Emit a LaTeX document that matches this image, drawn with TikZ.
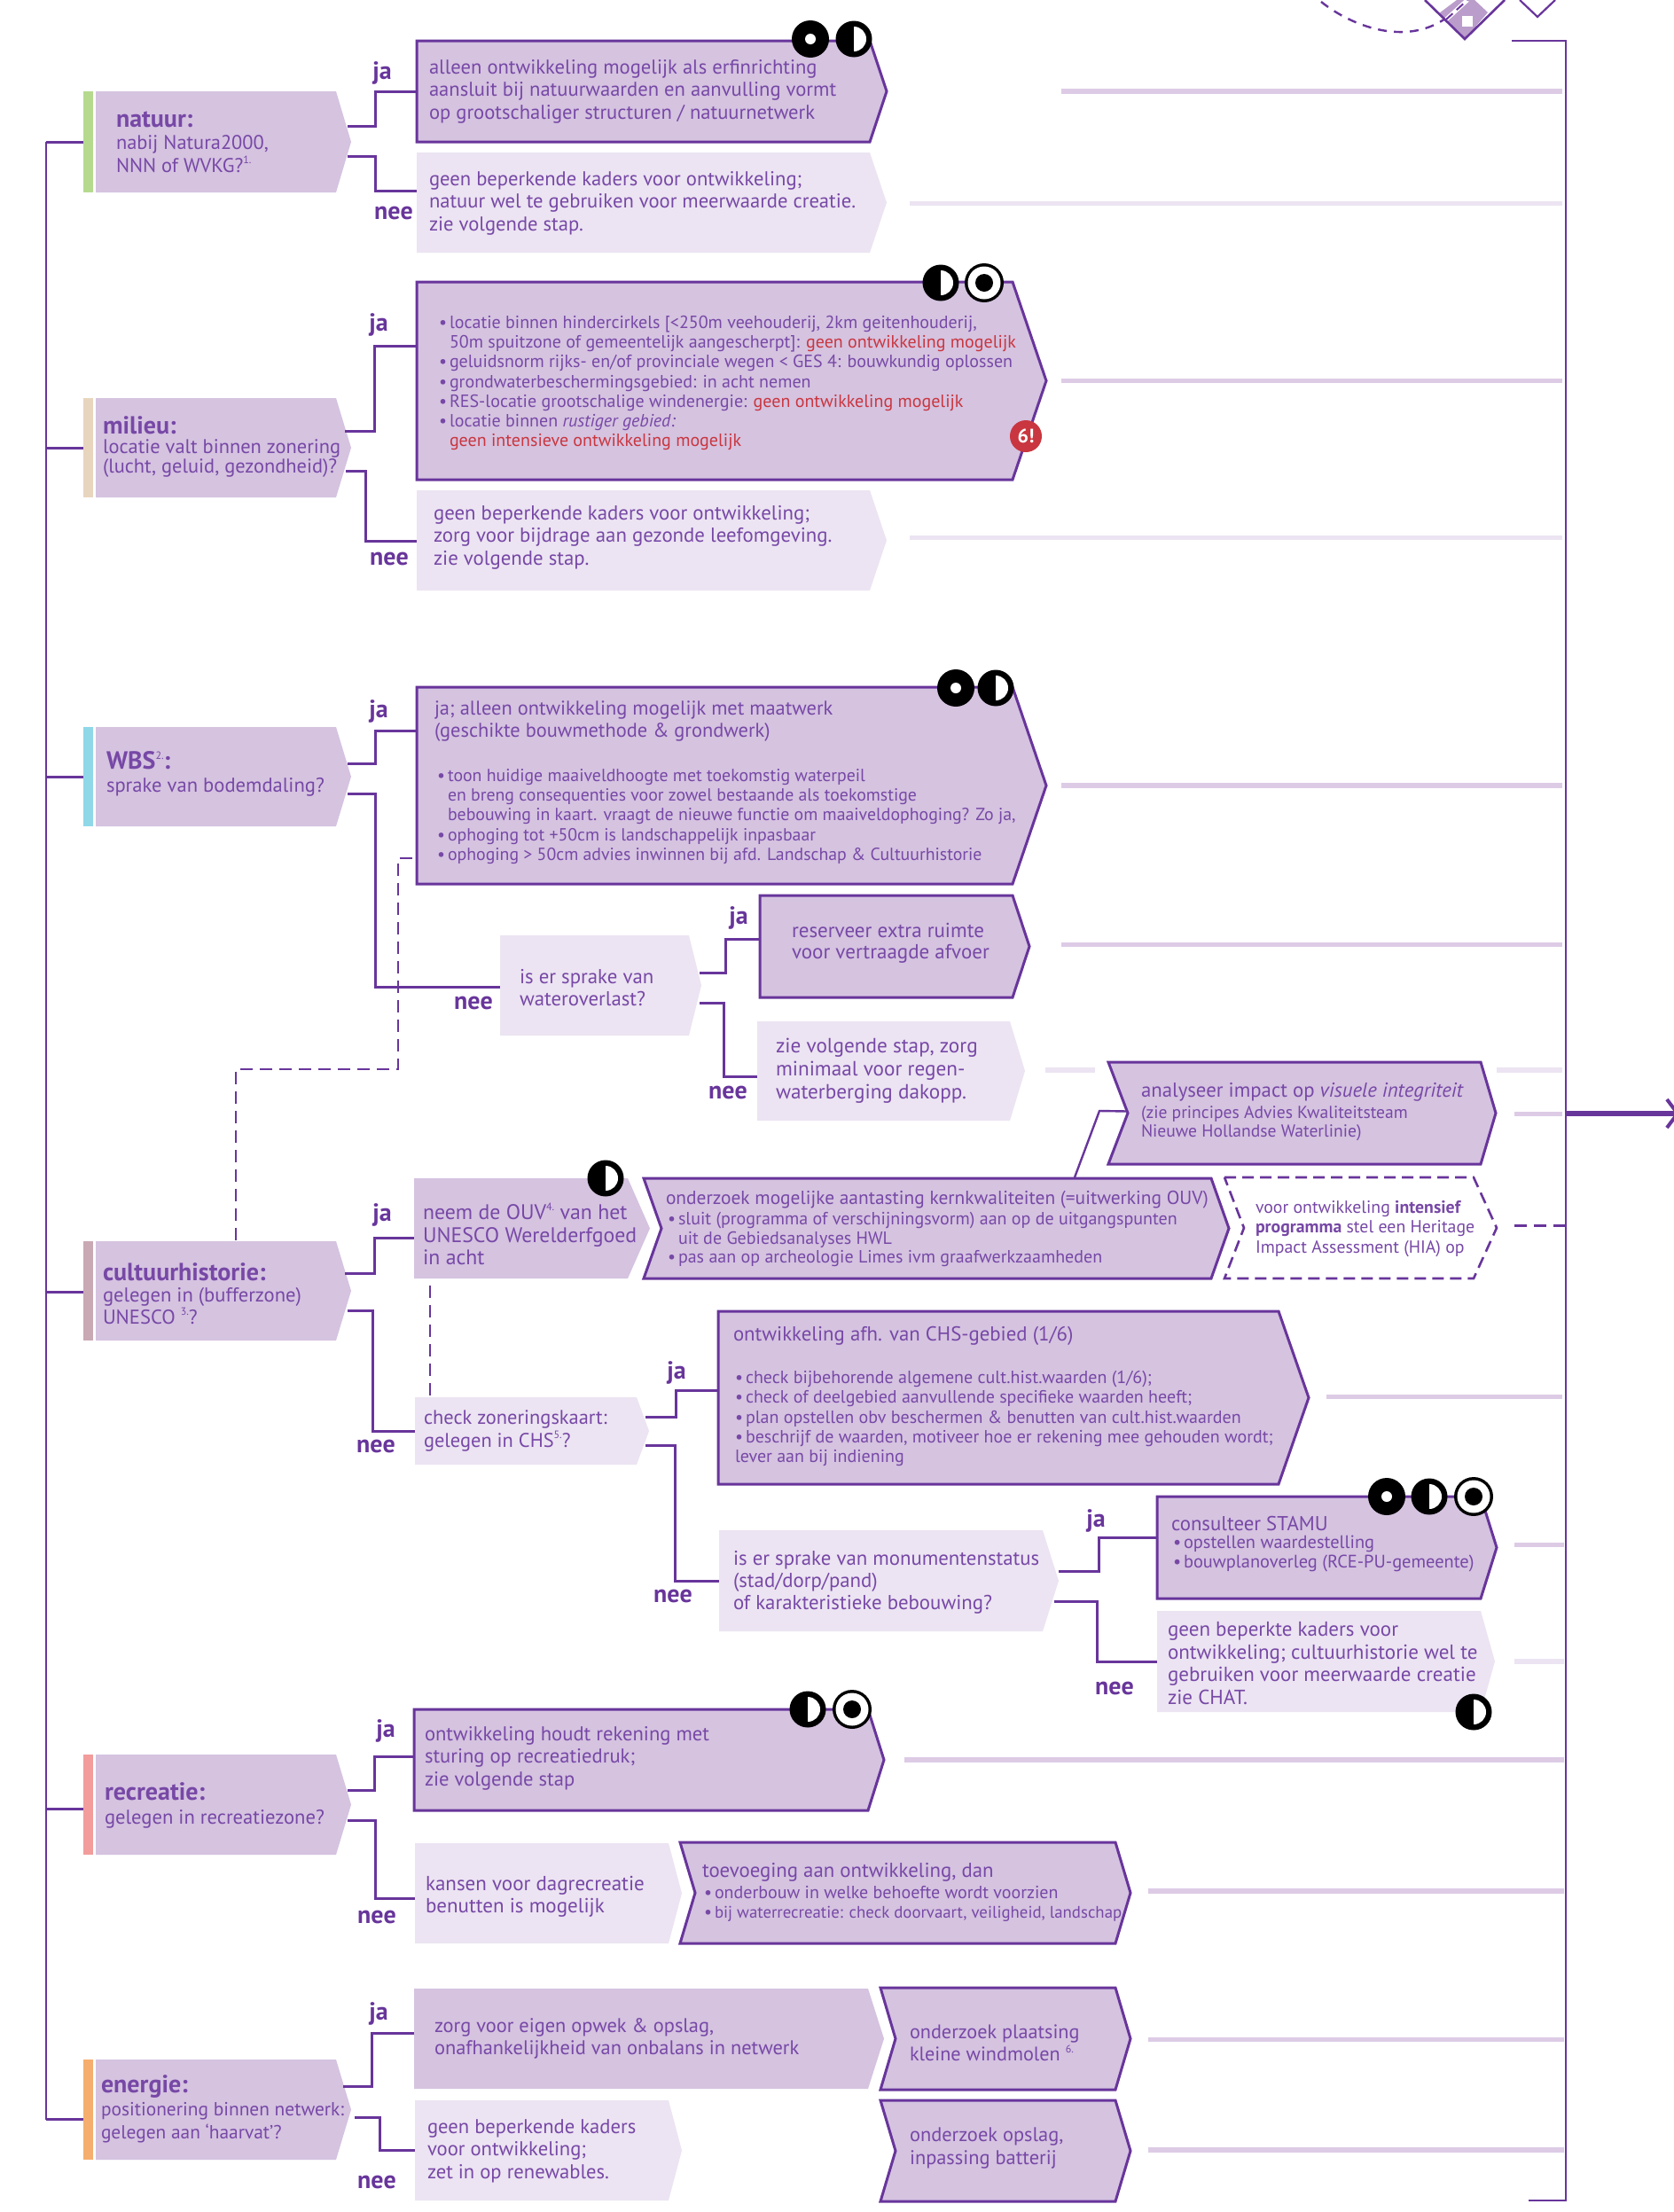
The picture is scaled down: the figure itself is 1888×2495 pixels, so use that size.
\documentclass[tikz,border=0pt]{standalone}
\usepackage{fontspec}
\setmainfont{PT Sans}
\usetikzlibrary{calc}
\definecolor{line}{HTML}{68359B}
\definecolor{txtc}{HTML}{7748A6}
\definecolor{dark}{HTML}{D5C3E0}
\definecolor{lite}{HTML}{ECE4F2}
\definecolor{outd}{HTML}{DDCBE6}
\definecolor{redt}{HTML}{C9363F}
\definecolor{decof}{HTML}{BA9DCB}
\definecolor{qa}{HTML}{B5DA8E}
\definecolor{qb}{HTML}{E8D5BE}
\definecolor{qc}{HTML}{8FD8E8}
\definecolor{qd}{HTML}{C9A9B3}
\definecolor{qe}{HTML}{F29C9C}
\definecolor{qf}{HTML}{F5AE6E}
\newcommand\ft[2]{\fontsize{#1}{#2}\selectfont}
\newcommand\bl{\makebox[6pt][l]{\textbullet}}
\newcommand\ind{\hspace*{6pt}}
\newcommand\rt[1]{\textcolor{redt}{#1}}
\newcommand\sps[1]{\raisebox{0.42em}{\fontsize{6}{6}\selectfont\mdseries #1}}
\newcommand\abox[8]{%
  \path[#8] (#2,#3) -- (#4,#3) -- (#6,{(#3+#5)/2}) -- (#4,#5) -- (#2,#5) -- ({#2+#7},{(#3+#5)/2}) -- cycle;
  \node[anch,minimum width={(#4-#2)*0.5pt},minimum height={(#5-#3)*0.5pt}] (#1) at ({(#2+#4)/2},{(#3+#5)/2}) {};
}
\newcommand\qbox[4]{% name, y1, y2, bar colour
  \fill[#4] (94,#2) rectangle (105,#3);
  \abox{#1}{108}{#2}{379}{#3}{396}{0}{darkf}
}
\newcommand\elbow[6]{% from, dx, dy, xmid, to, dy
  \coordinate (s) at ($(#1.east)+(#2,#3)$);
  \coordinate (e) at ($(#5.west)+(0,#6)$);
  \coordinate (m) at (#4,0);
  \draw[conn] (s) -- (m |- s) -- (m |- e) -- (e);
}
\newcommand\outl[5]{% from, dy, x1, x2, style
  \coordinate (s) at ($(#1.east)+(0,#2)$);
  \coordinate (a) at (#3,0);
  \coordinate (b) at (#4,0);
  \draw[#5] (a |- s) -- (b |- s);
}
\newcommand\stub[2]{% node, dy
  \coordinate (s) at ($(#1.west)+(-14,#2)$);
  \draw[conn] (trunkL |- s) -- (s);
}
\newcommand\tx[5]{\node[txt,font=#4] (#1) at (#2,#3) {#5};}
\newcommand\lab[4]{\node[lbl] (#1) at (#2,#3) {#4};}
\newcommand\icA[2]{\fill[black] (#1,#2) circle (21);\fill[white] (#1,#2) circle (6);}
\newcommand\icB[2]{\fill[black] (#1,#2) circle (20.5);\fill[white] (#1,{#2-14}) arc (-90:90:14) -- cycle;}
\newcommand\icC[2]{\fill[black] (#1,#2) circle (22);\fill[white] (#1,#2) circle (18.5);\fill[black] (#1,#2) circle (10);}
\tikzset{
  x=0.5pt,y=-0.5pt,
  anch/.style={inner sep=0pt,outer sep=0pt},
  darkf/.style={fill=dark},
  litef/.style={fill=lite},
  darkb/.style={fill=dark,draw=line,line width=1.5pt,line join=miter},
  dashb/.style={fill=white,draw=line,line width=1.3pt,dash pattern=on 6.5pt off 3.5pt},
  conn/.style={draw=line,line width=1.5pt},
  thinc/.style={draw=line,line width=1.2pt},
  dashc/.style={draw=line,line width=1.1pt,dash pattern=on 7pt off 4pt},
  outa/.style={draw=outd,line width=2.6pt},
  outb/.style={draw=lite,line width=2.6pt},
  txt/.style={inner sep=0pt,outer sep=0pt,anchor=west,align=left,text=txtc},
  lbl/.style={inner sep=0pt,outer sep=0pt,text=line,font=\ft{14}{15}\bfseries},
}
\begin{document}
\begin{tikzpicture}
\useasboundingbox (0,0) rectangle (1888,2495);
\clip (0,0) rectangle (1888,2495);
\fill[white] (0,0) rectangle (1888,2495);
% top decoration
\draw[line,line width=1.2pt,dash pattern=on 5pt off 4pt] (1490,2) .. controls (1525,30) and (1585,52) .. (1630,21);
\fill[decof] (1643,0) -- (1623,15) -- (1652,44) -- (1678,14) -- (1663,0) -- cycle;
\draw[white,line width=2.4pt] (1631,22) -- (1655,0);
\draw[line,line width=1pt,dash pattern=on 5pt off 3pt] (1631,22) -- (1655,0);
\fill[white] (1649,18) rectangle (1661,30);
\draw[line,line width=1.3pt] (1607,0) -- (1652,44) -- (1697,0);
\draw[line,line width=1.1pt] (1714,0) -- (1734,19) -- (1754,0);

\coordinate (trunkL) at (52,160);
\coordinate (trunkLend) at (52,2391);
\coordinate (trunkR) at (1766,46);
\coordinate (trunkRend) at (1766,2482);
\coordinate (topstub) at (1705,46);
\coordinate (botstub) at (1724,2482);
\coordinate (out1) at (1766,1256);
\coordinate (out2) at (1892,1256);
\coordinate (head1) at (1880,1240);
\coordinate (head2) at (1880,1272);

% question boxes
\qbox{natuur}{103}{217}{qa}
\qbox{milieu}{449}{561}{qb}
\qbox{wbs}{820}{932}{qc}
\qbox{cult}{1400}{1512}{qd}
\qbox{recr}{1979}{2092}{qe}
\qbox{ener}{2323}{2436}{qf}

% answer boxes
\abox{natja}{470}{46}{981}{160}{1000}{0}{darkb}
\abox{natnee}{470}{172}{981}{285}{1000}{0}{litef}
\abox{milja}{470}{318}{1142}{541}{1180}{0}{darkb}
\abox{milnee}{470}{553}{981}{666}{1000}{0}{litef}
\abox{wbsja}{470}{775}{1142}{997}{1180}{0}{darkb}
\abox{wnee}{564}{1055}{777}{1168}{791}{0}{litef}
\abox{res}{857}{1010}{1142}{1125}{1161}{0}{darkb}
\abox{zie}{854}{1152}{1139}{1264}{1156}{0}{litef}
\abox{analy}{1250}{1198}{1670}{1313}{1687}{22}{darkb}
\abox{ouv}{467}{1329}{708}{1442}{733}{0}{darkf}
\abox{onder}{726}{1329}{1366}{1442}{1386}{20}{darkb}
\abox{hia}{1381}{1328}{1662}{1442}{1688}{22}{dashb}
\abox{check}{468}{1576}{718}{1652}{732}{0}{litef}
\abox{chs}{810}{1479}{1442}{1674}{1476}{0}{darkb}
\abox{mon}{811}{1726}{1176}{1840}{1194}{0}{litef}
\abox{stamu}{1305}{1688}{1670}{1803}{1688}{0}{darkb}
\abox{geenb}{1305}{1817}{1670}{1931}{1686}{0}{litef}
\abox{recja}{467}{1928}{979}{2042}{997}{0}{darkb}
\abox{kans}{468}{2079}{754}{2192}{769}{0}{litef}
\abox{toev}{767}{2078}{1258}{2192}{1275}{17}{darkb}
\abox{opwek}{467}{2243}{979}{2356}{997}{0}{darkf}
\abox{wind}{993}{2242}{1258}{2357}{1275}{17}{darkb}
\abox{ennee}{468}{2369}{754}{2482}{769}{0}{litef}
\abox{batt}{993}{2369}{1258}{2483}{1275}{17}{darkb}

% trunks
\draw[thinc] (trunkL) -- (trunkLend);
\draw[thinc] (topstub) -- (trunkR) -- (trunkRend) -- (botstub);
\stub{natuur}{0}
\stub{milieu}{0}
\stub{wbs}{0}
\stub{cult}{1}
\stub{recr}{5}
\stub{ener}{11}

% connectors
\elbow{natuur}{13}{-18}{423}{natja}{0}
\elbow{natuur}{13}{16}{423}{natnee}{-13}
\elbow{milieu}{10}{-19}{422}{milja}{-39}
\elbow{milieu}{11}{26}{412}{milnee}{1}
\elbow{wbs}{13}{-15}{423}{wbsja}{-62}
\elbow{wbs}{13}{19}{423}{wnee}{2}
\elbow{wnee}{12}{-14}{818}{res}{-8}
\elbow{wnee}{12}{20}{816}{zie}{6}
\elbow{cult}{10}{-20}{422}{ouv}{11}
\elbow{cult}{13}{22}{420}{check}{0}
\elbow{check}{10}{-16}{762}{chs}{-8}
\elbow{check}{10}{16}{761}{mon}{0}
\elbow{mon}{18}{-11}{1239}{stamu}{-11}
\elbow{mon}{13}{23}{1237}{geenb}{0}
\elbow{recr}{13}{-16}{422}{recja}{-4}
\elbow{recr}{13}{18}{423}{kans}{6}
\elbow{ener}{8}{-26}{419}{opwek}{-6}
\elbow{ener}{21}{9}{428}{ennee}{0}
% onderzoek -> analyseer
\coordinate (oa) at (1212,1328);
\coordinate (ob) at (1240,1253);
\coordinate (oc) at ($(analy.west)+(22,-2)$);
\draw[thinc,line join=miter] (oa) -- (ob) -- (oc);
% dashed links
\coordinate (da) at (465,968);
\coordinate (db) at (449,968);
\coordinate (dc) at (449,1206);
\coordinate (dd) at (266,1206);
\draw[dashc] (da) -- (db) -- (dc) -- (dd) -- (dd |- cult.north);
\coordinate (de) at (485,1450);
\draw[dashc] (de) -- (de |- check.north);

% out lines
\outl{natja}{0}{1197}{1762}{outa}
\outl{natnee}{1}{1026}{1762}{outb}
\outl{milja}{0}{1197}{1762}{outa}
\outl{milnee}{-3}{1026}{1762}{outb}
\outl{wbsja}{0}{1197}{1762}{outa}
\outl{res}{-2}{1197}{1762}{outa}
\outl{zie}{-1}{1179}{1235}{outb}
\outl{zie}{-1}{1688}{1762}{outb}
\outl{analy}{1}{1708}{1762}{outa}
\outl{hia}{-3}{1708}{1766}{conn,dash pattern=on 7pt off 4pt}
\outl{chs}{-1}{1496}{1762}{outa}
\outl{stamu}{-3}{1708}{1764}{outa}
\outl{geenb}{0}{1708}{1764}{outb}
\outl{recja}{0}{1020}{1764}{outa}
\outl{toev}{-2}{1295}{1764}{outa}
\outl{wind}{1}{1295}{1764}{outa}
\outl{batt}{-1}{1295}{1764}{outa}
% output arrow
\draw[line,line width=2.6pt] (out1) -- (out2);
\draw[line,line width=2pt] (head1) -- (out2) -- (head2);

% texts
\tx{tnatuur}{131}{160}{\ft{11.2}{12.8}}{{\ft{14}{12.8}\bfseries natuur:}\\nabij Natura2000,\\NNN of WVKG?\sps{1.}}
\tx{tmilieu}{116}{504}{\ft{11.2}{11}}{{\ft{14}{12}\bfseries milieu:}\\locatie valt binnen zonering\\(lucht, geluid, gezondheid)?}
\tx{twbs}{120}{873}{\ft{11.3}{13}}{{\ft{14}{13}\bfseries WBS\sps{2.}:}\\sprake van bodemdaling?}
\tx{tcult}{116}{1459}{\ft{11.3}{12.2}}{{\ft{14}{13}\bfseries cultuurhistorie:}\\gelegen in (bufferzone)\\UNESCO \sps{3.}?}
\tx{trecr}{118}{2036}{\ft{11.3}{13.5}}{{\ft{14}{13.5}\bfseries recreatie:}\\gelegen in recreatiezone?}
\tx{tener}{114}{2379}{\ft{10.7}{13}}{{\ft{14}{13}\bfseries energie:}\\positionering binnen netwerk:\\gelegen aan ‘haarvat’?}

\tx{tnatja}{484}{103}{\ft{11.3}{12.75}}{alleen ontwikkeling mogelijk als erfinrichting\\aansluit bij natuurwaarden en aanvulling vormt\\op grootschaliger structuren / natuurnetwerk}
\tx{tnatnee}{484}{229}{\ft{11.3}{12.75}}{geen beperkende kaders voor ontwikkeling;\\natuur wel te gebruiken voor meerwaarde creatie.\\zie volgende stap.}
\tx{tmilja}{495}{432}{\ft{10}{11.15}}{\bl locatie binnen hindercirkels {[}<250m veehouderij, 2km geitenhouderij,\\\ind 50m spuitzone of gemeentelijk aangescherpt{]}: \rt{geen ontwikkeling mogelijk}\\\bl geluidsnorm rijks- en/of provinciale wegen < GES 4: bouwkundig oplossen\\\bl grondwaterbeschermingsgebied: in acht nemen\\\bl RES-locatie grootschalige windenergie: \rt{geen ontwikkeling mogelijk}\\\bl locatie binnen \textit{rustiger gebied:}\\\ind\rt{geen intensieve ontwikkeling mogelijk}}
\tx{tmilnee}{489}{606}{\ft{11.4}{12.75}}{geen beperkende kaders voor ontwikkeling;\\zorg voor bijdrage aan gezonde leefomgeving.\\zie volgende stap.}
\tx{twbsja}{490}{814}{\ft{11.2}{12.5}}{ja; alleen ontwikkeling mogelijk met maatwerk\\(geschikte bouwmethode \& grondwerk)}
\tx{twbsjb}{493}{921}{\ft{9.9}{11.2}}{\bl toon huidige maaiveldhoogte met toekomstig waterpeil\\\ind en breng consequenties voor zowel bestaande als toekomstige\\\ind bebouwing in kaart. vraagt de nieuwe functie om maaiveldophoging? Zo ja,\\\bl ophoging tot +50cm is landschappelijk inpasbaar\\\bl ophoging > 50cm advies inwinnen bij afd. Landschap \& Cultuurhistorie}
\tx{twnee}{586}{1114}{\ft{11.4}{12.5}}{is er sprake van\\wateroverlast?}
\tx{tres}{893}{1064}{\ft{11.5}{12.2}}{reserveer extra ruimte\\voor vertraagde afvoer}
\tx{tzie}{875}{1208}{\ft{11.6}{13}}{zie volgende stap, zorg\\minimaal voor regen-\\waterberging dakopp.}
\tx{tanaa}{1287}{1232}{\ft{11.4}{12}}{analyseer impact op \textit{visuele integriteit}}
\tx{tanab}{1287}{1267}{\ft{9.8}{10.8}}{(zie principes Advies Kwaliteitsteam\\Nieuwe Hollandse Waterlinie)}
\tx{touv}{477}{1392}{\ft{11.9}{12.7}}{neem de OUV\sps{4.} van het\\UNESCO Werelderfgoed\\in acht}
\tx{tondera}{751}{1353}{\ft{10.7}{12}}{onderzoek mogelijke aantasting kernkwaliteiten (=uitwerking OUV)}
\tx{tonderb}{753}{1398}{\ft{10}{10.8}}{\bl sluit (programma of verschijningsvorm) aan op de uitgangspunten\\\ind uit de Gebiedsanalyses HWL\\\bl pas aan op archeologie Limes ivm graafwerkzaamheden}
\tx{thia}{1416}{1386}{\ft{9.9}{11.3}}{voor ontwikkeling \textbf{intensief}\\\textbf{programma} stel een Heritage\\Impact Assessment (HIA) op}
\tx{tcheck}{478}{1614}{\ft{11.2}{12.7}}{check zoneringskaart:\\gelegen in CHS\sps{5.}?}
\tx{tchsa}{827}{1507}{\ft{11.4}{12}}{ontwikkeling afh. van CHS-gebied (1/6)}
\tx{tchsb}{829}{1600}{\ft{10}{11.2}}{\bl check bijbehorende algemene cult.hist.waarden (1/6);\\\bl check of deelgebied aanvullende specifieke waarden heeft;\\\bl plan opstellen obv beschermen \& benutten van cult.hist.waarden\\\bl beschrijf de waarden, motiveer hoe er rekening mee gehouden wordt;\\lever aan bij indiening}
\tx{tmon}{827}{1785}{\ft{11.4}{12.6}}{is er sprake van monumentenstatus\\(stad/dorp/pand)\\of karakteristieke bebouwing?}
\tx{tstamua}{1321}{1718}{\ft{11.4}{12}}{consulteer STAMU}
\tx{tstamub}{1323}{1752}{\ft{10.2}{11}}{\bl opstellen waardestelling\\\bl bouwplanoverleg (RCE-PU-gemeente)}
\tx{tgeenb}{1317}{1876}{\ft{11.5}{12.8}}{geen beperkte kaders voor\\ontwikkeling; cultuurhistorie wel te\\gebruiken voor meerwaarde creatie\\zie CHAT.}
\tx{trecja}{479}{1983}{\ft{11.3}{12.75}}{ontwikkeling houdt rekening met\\sturing op recreatiedruk;\\zie volgende stap}
\tx{tkans}{480}{2139}{\ft{11.5}{12.6}}{kansen voor dagrecreatie\\benutten is mogelijk}
\tx{ttoeva}{792}{2112}{\ft{11.4}{12}}{toevoeging aan ontwikkeling, dan}
\tx{ttoevb}{794}{2147}{\ft{10}{11}}{\bl onderbouw in welke behoefte wordt voorzien\\\bl {\ft{9.4}{11}bij waterrecreatie: check doorvaart, veiligheid, landschap}}
\tx{topwek}{490}{2299}{\ft{11.2}{12.5}}{zorg voor eigen opwek \& opslag,\\onafhankelijkheid van onbalans in netwerk}
\tx{twind}{1026}{2304}{\ft{11.1}{12.6}}{onderzoek plaatsing\\kleine windmolen \sps{6.}}
\tx{tennee}{482}{2426}{\ft{11.3}{12.7}}{geen beperkende kaders\\voor ontwikkeling;\\zet in op renewables.}
\tx{tbatt}{1026}{2423}{\ft{11.2}{12.9}}{onderzoek opslag,\\inpassing batterij}

% labels
\lab{l1}{431}{82}{ja}
\lab{l2}{444}{240}{nee}
\lab{l3}{427}{366}{ja}
\lab{l4}{439}{630}{nee}
\lab{l5}{427}{802}{ja}
\lab{l6}{534}{1131}{nee}
\lab{l7}{833}{1035}{ja}
\lab{l8}{821}{1232}{nee}
\lab{l9}{431}{1370}{ja}
\lab{l10}{424}{1631}{nee}
\lab{l11}{763}{1548}{ja}
\lab{l12}{759}{1800}{nee}
\lab{l13}{1236}{1715}{ja}
\lab{l14}{1257}{1904}{nee}
\lab{l15}{435}{1952}{ja}
\lab{l16}{425}{2162}{nee}
\lab{l17}{427}{2271}{ja}
\lab{l18}{425}{2461}{nee}

% icons
\icA{914}{44}\icB{963}{44}
\icB{1061}{319}\icC{1110}{319}
\icA{1078}{776}\icB{1123}{776}
\icB{683}{1329}
\icA{1564}{1688}\icB{1612}{1688}\icC{1662}{1688}
\icB{1662}{1931}
\icB{911}{1928}\icC{961}{1928}
% badge
\node[circle,fill=redt,minimum size=18pt,inner sep=0pt,text=white,font=\ft{11}{11}\bfseries] (badge) at (1157,492) {6!};
\end{tikzpicture}
\end{document}
